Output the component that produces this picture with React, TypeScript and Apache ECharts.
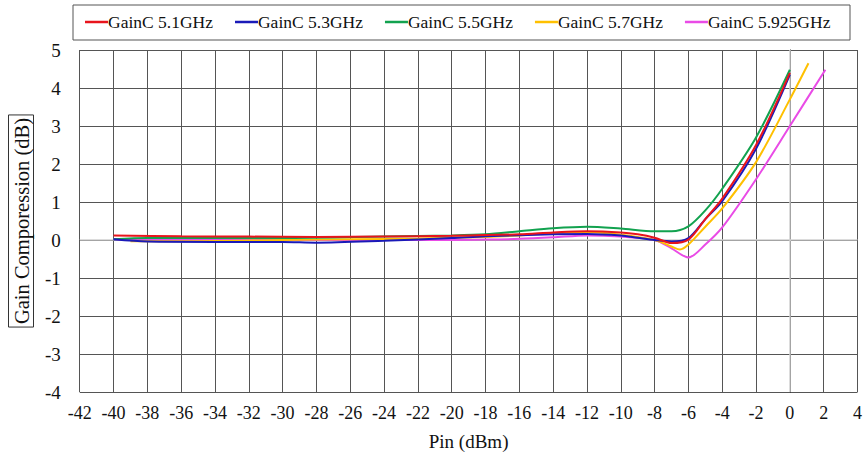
import React, { useEffect, useRef } from "react";
import * as echarts from "echarts";

const seriesNames = ["GainC 5.1GHz", "GainC 5.3GHz", "GainC 5.5GHz", "GainC 5.7GHz", "GainC 5.925GHz"];
const colors = ["#e8141c", "#1a1ab8", "#12a24f", "#ffc000", "#e94be6"];

const red: [number, number][] = [
  [-40, 0.12], [-36, 0.1], [-32, 0.09], [-28, 0.08], [-24, 0.09], [-20, 0.11], [-16, 0.15], [-14, 0.2], [-12, 0.23],
  [-10, 0.2], [-9, 0.15], [-8, 0.06], [-7, -0.08], [-6, 0.01], [-5, 0.55], [-4, 1.09], [-2, 2.5], [0, 4.4],
];
const blue: [number, number][] = [
  [-40, 0.02], [-38, -0.04], [-34, -0.05], [-30, -0.05], [-28, -0.07], [-24, -0.02], [-20, 0.05], [-18, 0.1], [-14, 0.15],
  [-12, 0.16], [-10, 0.12], [-9, 0.06], [-8, 0.0], [-7, -0.04], [-6, 0.05], [-5, 0.55], [-4, 1.02], [-2, 2.4], [0, 4.35],
];
const green: [number, number][] = [
  [-40, 0.02], [-38, 0.05], [-34, 0.05], [-30, 0.05], [-24, 0.09], [-20, 0.12], [-18, 0.15], [-16, 0.23], [-14, 0.31],
  [-12, 0.35], [-10, 0.3], [-8, 0.23], [-7, 0.23], [-6, 0.36], [-5, 0.78], [-4, 1.35], [-2, 2.7], [0, 4.48],
];
const yellow: [number, number][] = [
  [-39, -0.03], [-36, -0.03], [-30, 0.0], [-26, 0.02], [-22, 0.04], [-18, 0.08], [-16, 0.12], [-14, 0.18], [-12, 0.21],
  [-10, 0.14], [-8, 0.0], [-7, -0.17], [-6.5, -0.25], [-6, -0.12], [-5, 0.35], [-4, 0.83], [-2, 2.05], [0, 3.7], [1.1, 4.65],
];
const magenta: [number, number][] = [
  [-40, 0.02], [-36, 0.0], [-30, 0.0], [-24, 0.0], [-20, 0.0], [-18, 0.01], [-16, 0.03], [-14, 0.07], [-12, 0.12],
  [-10, 0.09], [-8, 0.0], [-7, -0.22], [-6, -0.46], [-5, -0.12], [-4, 0.33], [-2, 1.6], [0, 3.0], [2.1, 4.48],
];
const allData = [red, blue, green, yellow, magenta];

const xTicks = { min: -42, max: 4, interval: 2 };
const yTicks = { min: -4, max: 5, interval: 1 };
const zeroX = 0;
const zeroY = 0;

const FONT = "Liberation Serif";

export default function App() {
  const ref = useRef<HTMLDivElement>(null);
  useEffect(() => {
    if (!ref.current) return;
    const chart = echarts.init(ref.current, undefined, { renderer: "svg" });
    chart.setOption({
      animation: false,
      backgroundColor: "#ffffff",
      textStyle: { fontFamily: FONT },
      graphic: [
        {
          type: "rect",
          shape: { x: 73, y: 5, width: 777, height: 35 },
          style: { fill: "none", stroke: "#555", lineWidth: 1 },
          silent: true,
        },
      ],
      legend: {
        top: 8,
        left: 80,
        itemWidth: 23,
        itemHeight: 2.5,
        itemGap: 22,
        icon: "rect",
        textStyle: { fontFamily: FONT, fontSize: 17.5, color: "#111", padding: [0, 0, 0, -5] },
        data: seriesNames,
      },
      grid: { left: 72, right: 7, top: 50, bottom: 61, containLabel: false },
      xAxis: {
        type: "value",
        ...xTicks,
        name: "Pin (dBm)",
        nameLocation: "middle",
        nameGap: 40,
        nameTextStyle: { fontFamily: FONT, fontSize: 19, color: "#111" },
        axisLine: { show: true, lineStyle: { color: "#222", width: 1 } },
        axisTick: { show: false },
        axisLabel: { fontFamily: FONT, fontSize: 18, color: "#111", margin: 12 },
        splitLine: { show: true, lineStyle: { color: "#555", width: 1 } },
      },
      yAxis: {
        type: "value",
        ...yTicks,
        name: "Gain Comporession (dB)",
        nameLocation: "middle",
        nameGap: 35,
        nameTextStyle: {
          fontFamily: FONT,
          fontSize: 20.5,
          color: "#111",
          borderColor: "#333",
          borderWidth: 1,
          padding: [3, 3, 1, 3],
        },
        axisLine: { show: true, lineStyle: { color: "#222", width: 1 } },
        axisTick: { show: false },
        axisLabel: { fontFamily: FONT, fontSize: 19, color: "#111", margin: 19 },
        splitLine: { show: true, lineStyle: { color: "#555", width: 1 } },
      },
      series: [
        {
          name: "zero-lines",
          type: "line",
          data: [],
          z: 1,
          silent: true,
          markLine: {
            silent: true,
            symbol: "none",
            label: { show: false },
            lineStyle: { color: "#d0d0d0", width: 1.5, type: "solid" },
            data: [{ xAxis: zeroX }, { yAxis: zeroY }],
          },
        },
        ...allData.map((d, i) => ({
          name: seriesNames[i],
          type: "line",
          data: d,
          smooth: 0.3,
          showSymbol: false,
          symbol: "none",
          lineStyle: { color: colors[i], width: 2 },
          itemStyle: { color: colors[i] },
          z: 10 - i,
        })),
      ],
    });
    return () => chart.dispose();
  }, []);
  return <div ref={ref} style={{ width: 865, height: 456, position: "absolute", left: 0, top: 0 }} />;
}
